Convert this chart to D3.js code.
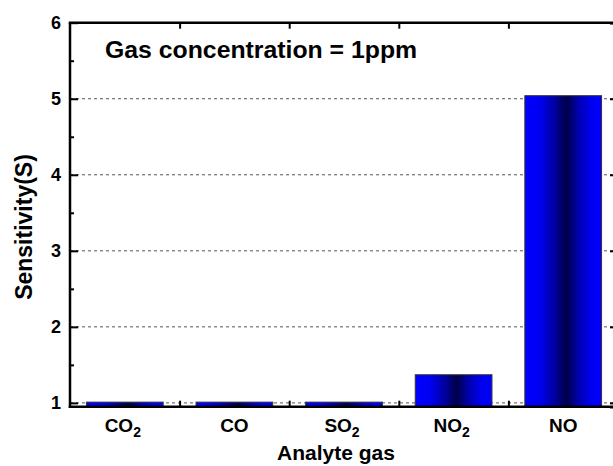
<!DOCTYPE html>
<html>
<head>
<meta charset="utf-8">
<script src="https://cdn.jsdelivr.net/npm/d3@7"></script>
<style>
  html, body { margin: 0; padding: 0; background: #fff; }
  svg { display: block; }
  text { font-family: Arial, "Liberation Sans", sans-serif; font-weight: bold; fill: #000; }
</style>
</head>
<body>
<svg id="chart" width="613" height="466"></svg>
<script>
// Sensor response of each analyte gas at 1 ppm
const gases = ["CO2", "CO", "SO2", "NO2", "NO"];
const sensitivity = [1.01, 1.01, 1.01, 1.37, 5.04];
const yTicks = [1, 2, 3, 4, 5, 6];
const yMinorTicks = [1.5, 2.5, 3.5, 4.5, 5.5];
const gridValues = [1, 2, 3, 4, 5];
const titleText = "Gas concentration = 1ppm";
const xTitle = "Analyte gas";
const yTitle = "Sensitivity(S)";

const svg = d3.select("#chart");
const plotLeft = 70, plotRight = 618, plotTop = 22.7, plotBottom = 406.7;

const x = d3.scaleBand().domain(gases).range([plotLeft, plotRight])
  .paddingInner(0.3).paddingOuter(0.15);
const y = d3.scaleLinear().domain([0.95, 6]).range([plotBottom, plotTop]);

// horizontal metallic-blue shading for the bars
const defs = svg.append("defs");
const grad = defs.append("linearGradient").attr("id", "barShade")
  .attr("x1", "0").attr("x2", "1").attr("y1", "0").attr("y2", "0");
[[0, "#0000ff"], [0.2, "#0000f0"], [0.4, "#00009a"], [0.54, "#000048"],
 [0.7, "#0000b0"], [0.86, "#0000ee"], [1, "#0000ff"]]
  .forEach(([o, c]) => grad.append("stop").attr("offset", o).attr("stop-color", c));

// dotted grid lines
svg.append("g").selectAll("line").data(gridValues).join("line")
  .attr("x1", plotLeft).attr("x2", plotRight)
  .attr("y1", d => y(d)).attr("y2", d => y(d))
  .attr("stroke", "#555").attr("stroke-width", 1)
  .attr("stroke-dasharray", "3,3");

// bars
svg.append("g").selectAll("rect").data(gases).join("rect")
  .attr("x", d => x(d))
  .attr("width", x.bandwidth())
  .attr("y", (d, i) => y(sensitivity[i]))
  .attr("height", (d, i) => y(0.95) - y(sensitivity[i]))
  .attr("fill", "url(#barShade)")
  .attr("stroke", "#333").attr("stroke-width", 1);

// frame axes with inward ticks
const axisColor = "#000";
const tickPos = gases.slice(1).map(g => x(g) - x.step() * x.paddingInner() / 2);

// left axis (labels drawn separately below)
const gL = svg.append("g").attr("transform", `translate(${plotLeft},0)`)
  .call(d3.axisLeft(y).tickValues(yTicks).tickSize(-8).tickFormat(""));
const yMinorL = svg.append("g").attr("transform", `translate(${plotLeft},0)`)
  .call(d3.axisLeft(y).tickValues(yMinorTicks).tickSize(-4).tickFormat(""));

// right axis
const gR = svg.append("g").attr("transform", `translate(${plotRight},0)`)
  .call(d3.axisRight(y).tickValues(yTicks).tickSize(-8).tickFormat(""));
const gRm = svg.append("g").attr("transform", `translate(${plotRight},0)`)
  .call(d3.axisRight(y).tickValues(yMinorTicks).tickSize(-4).tickFormat(""));

// bottom and top axes, ticks on category boundaries
const xB = d3.scaleLinear().domain([plotLeft, plotRight]).range([plotLeft, plotRight]);
const gB = svg.append("g").attr("transform", `translate(0,${plotBottom})`)
  .call(d3.axisBottom(xB).tickValues(tickPos).tickSize(-6).tickFormat(""));
const gT = svg.append("g").attr("transform", `translate(0,${plotTop})`)
  .call(d3.axisTop(xB).tickValues(tickPos).tickSize(-6).tickFormat(""));

[gL, yMinorL, gR, gRm, gB, gT].forEach(g => {
  g.select(".domain").attr("stroke", axisColor).attr("stroke-width", 2.5);
  g.selectAll(".tick line").attr("stroke", axisColor).attr("stroke-width", 2);
});
gB.select(".domain").attr("d", `M${plotLeft - 1.25},0H${plotRight}`);
gT.select(".domain").attr("d", `M${plotLeft - 1.25},0H${plotRight}`);
gL.select(".domain").attr("d", `M0,${plotTop}V${plotBottom + 1.25}`);
yMinorL.select(".domain").remove();
gRm.select(".domain").remove();

// y tick labels
svg.append("g").selectAll("text").data(yTicks).join("text")
  .attr("x", plotLeft - 9)
  .attr("y", d => y(d) + 6)
  .attr("text-anchor", "end")
  .attr("font-size", 18)
  .text(d => d3.format("d")(d));

// category labels with subscripted digits
const catLabels = svg.append("g").selectAll("text").data(gases).join("text")
  .attr("x", d => x(d) + x.bandwidth() / 2 - (/\d/.test(d) ? 2 : 0))
  .attr("y", 432)
  .attr("text-anchor", "middle")
  .attr("font-size", 19);
catLabels.each(function (d) {
  const t = d3.select(this);
  const parts = d.match(/[A-Za-z]+|\d+/g);
  parts.forEach(p => {
    if (/^\d+$/.test(p)) {
      t.append("tspan").attr("font-size", 14).attr("dy", 5).text(p);
    } else {
      t.append("tspan").text(p);
    }
  });
});

// axis titles and annotation
svg.append("text").attr("x", 336).attr("y", 460)
  .attr("text-anchor", "middle").attr("font-size", 21).text(xTitle);
svg.append("text")
  .attr("transform", "translate(32,227) rotate(-90)")
  .attr("text-anchor", "middle").attr("font-size", 23).text(yTitle);
svg.append("text").attr("x", 105).attr("y", 58)
  .attr("font-size", 24.8).text(titleText);
</script>
</body>
</html>
